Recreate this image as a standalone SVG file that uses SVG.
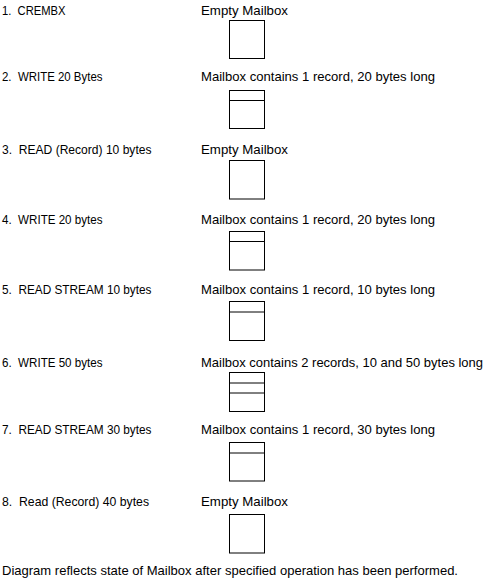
<svg xmlns="http://www.w3.org/2000/svg" width="485" height="586" viewBox="0 0 485 586">
<style>
text{font-family:"Liberation Sans",Arial,sans-serif;font-size:13px;fill:#000;white-space:pre}
.box{fill:#fff;stroke:#000;stroke-width:1}
.rec{stroke:#000;stroke-width:1;fill:none}
</style>
<rect width="485" height="586" fill="#fff"/>
<g id="row1">
<text x="2" y="15" textLength="63.5" lengthAdjust="spacingAndGlyphs" xml:space="preserve">1.  CREMBX</text>
<text x="201" y="15" textLength="87" lengthAdjust="spacingAndGlyphs">Empty Mailbox</text>
<rect class="box" x="229.5" y="20.5" width="35" height="38"/>
</g>
<g id="row2">
<text x="2" y="81" textLength="100.5" lengthAdjust="spacingAndGlyphs" xml:space="preserve">2.  WRITE 20 Bytes</text>
<text x="201" y="81" textLength="234" lengthAdjust="spacingAndGlyphs">Mailbox contains 1 record, 20 bytes long</text>
<rect class="box" x="229.5" y="90.5" width="35" height="38"/>
<line class="rec" x1="229.5" y1="100.5" x2="264.5" y2="100.5"/>
</g>
<g id="row3">
<text x="2" y="154" textLength="149.5" lengthAdjust="spacingAndGlyphs" xml:space="preserve">3.  READ (Record) 10 bytes</text>
<text x="201" y="154" textLength="87" lengthAdjust="spacingAndGlyphs">Empty Mailbox</text>
<rect class="box" x="229.5" y="160.5" width="35" height="38.5"/>
</g>
<g id="row4">
<text x="2" y="224" textLength="100.5" lengthAdjust="spacingAndGlyphs" xml:space="preserve">4.  WRITE 20 bytes</text>
<text x="201" y="224" textLength="234" lengthAdjust="spacingAndGlyphs">Mailbox contains 1 record, 20 bytes long</text>
<rect class="box" x="229.5" y="231.5" width="35" height="38.5"/>
<line class="rec" x1="229.5" y1="241.5" x2="264.5" y2="241.5"/>
</g>
<g id="row5">
<text x="2" y="294" textLength="149.5" lengthAdjust="spacingAndGlyphs" xml:space="preserve">5.  READ STREAM 10 bytes</text>
<text x="201" y="294" textLength="234" lengthAdjust="spacingAndGlyphs">Mailbox contains 1 record, 10 bytes long</text>
<rect class="box" x="229.5" y="301.5" width="35" height="39"/>
<line class="rec" x1="229.5" y1="312" x2="264.5" y2="312"/>
</g>
<g id="row6">
<text x="2" y="367" textLength="100.5" lengthAdjust="spacingAndGlyphs" xml:space="preserve">6.  WRITE 50 bytes</text>
<text x="201" y="367" textLength="282" lengthAdjust="spacingAndGlyphs">Mailbox contains 2 records, 10 and 50 bytes long</text>
<rect class="box" x="229.5" y="372.5" width="35" height="39"/>
<line class="rec" x1="229.5" y1="383" x2="264.5" y2="383"/>
<line class="rec" x1="229.5" y1="393" x2="264.5" y2="393"/>
</g>
<g id="row7">
<text x="2" y="434" textLength="149.5" lengthAdjust="spacingAndGlyphs" xml:space="preserve">7.  READ STREAM 30 bytes</text>
<text x="201" y="434" textLength="234" lengthAdjust="spacingAndGlyphs">Mailbox contains 1 record, 30 bytes long</text>
<rect class="box" x="229.5" y="442.5" width="35" height="38.5"/>
<line class="rec" x1="229.5" y1="453" x2="264.5" y2="453"/>
</g>
<g id="row8">
<text x="2" y="506" textLength="147" lengthAdjust="spacingAndGlyphs" xml:space="preserve">8.  Read (Record) 40 bytes</text>
<text x="201" y="506" textLength="87" lengthAdjust="spacingAndGlyphs">Empty Mailbox</text>
<rect class="box" x="229.5" y="514.5" width="35" height="38.5"/>
</g>
<g id="connectors"></g>
<text id="footer" x="2" y="575" textLength="456" lengthAdjust="spacingAndGlyphs">Diagram reflects state of Mailbox after specified operation has been performed.</text>
</svg>
